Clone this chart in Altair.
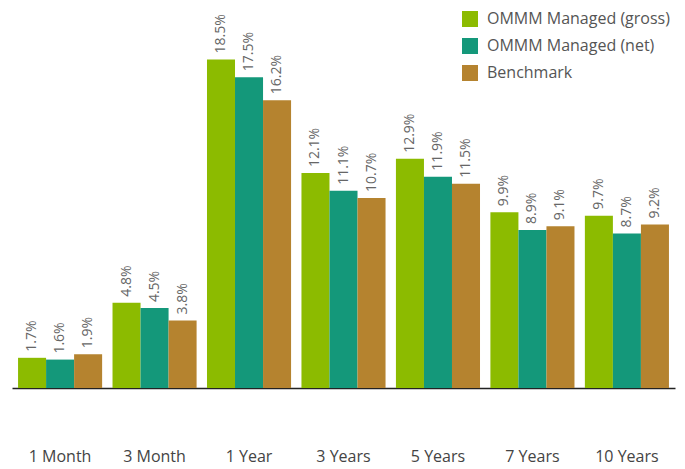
import altair as alt
import pandas as pd

periods = ["1 Month", "3 Month", "1  Year", "3 Years", "5 Years", "7 Years", "10 Years"]
series = ["OMMM Managed (gross)", "OMMM Managed (net)", "Benchmark"]
gross = [1.7, 4.8, 18.5, 12.1, 12.9, 9.9, 9.7]
net = [1.6, 4.5, 17.5, 11.1, 11.9, 8.9, 8.7]
bench = [1.9, 3.8, 16.2, 10.7, 11.5, 9.1, 9.2]
colors = ["#8cbb00", "#14987a", "#b5832f"]

rows = []
for s, vals in zip(series, [gross, net, bench]):
    for p, v in zip(periods, vals):
        rows.append({"period": p, "series": s, "value": v, "label": f"{v:.1f}%"})
df = pd.DataFrame(rows)

FONT = "Open Sans"

base = alt.Chart(df).encode(
    x=alt.X("period:N", sort=periods, title=None,
            scale=alt.Scale(paddingInner=0.11, paddingOuter=0.064),
            axis=alt.Axis(labelAngle=0, ticks=False, labelPadding=60,
                          labelFontSize=16, labelColor="#444444", labelFont=FONT,
                          domainColor="#222222", domainWidth=1.5)),
    xOffset=alt.XOffset("series:N", sort=series),
    y=alt.Y("value:Q", title=None, axis=None,
            scale=alt.Scale(domain=[0, 21], nice=False)),
)

bars = base.mark_bar().encode(
    color=alt.Color("series:N", sort=series,
                    scale=alt.Scale(domain=series, range=colors),
                    legend=alt.Legend(title=None, orient="none", legendX=450, legendY=-4,
                                      symbolType="square", symbolSize=256,
                                      symbolStrokeWidth=0, labelFontSize=16,
                                      labelFont=FONT, labelColor="#555555",
                                      labelLimit=400,
                                      rowPadding=11, labelOffset=9))
)

labels = base.mark_text(angle=270, align="left", baseline="middle", dx=6,
                        fontSize=14, font=FONT, color="#666666").encode(
    text="label:N"
)

chart = (bars + labels).properties(
    width=663, height=373,
    padding={"left": 4, "top": 7, "right": 2, "bottom": 80},
    autosize=alt.AutoSizeParams(type="none"),
).configure_view(stroke=None)

chart.save("out.html", embed_options={"renderer": "svg", "actions": False})
